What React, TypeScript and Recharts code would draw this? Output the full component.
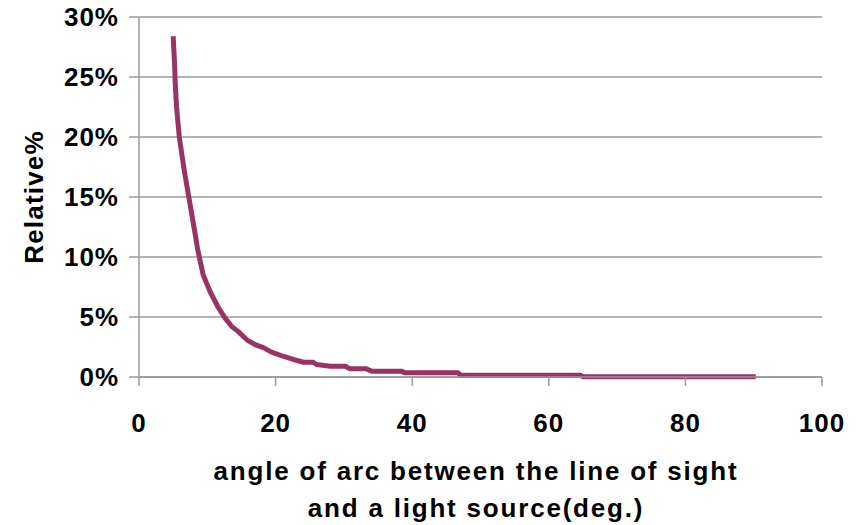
import { CartesianGrid, Line, LineChart, XAxis, YAxis } from "recharts";

// angle of arc (deg.) and relative %
const ANGLE_DEG = [
  5.0, 5.2, 5.3, 5.5, 5.9, 6.6, 7.35, 8.2, 8.6, 9.4, 10.5, 11.6, 12.6, 13.6, 14.5, 15.8, 17.0, 18.2,
  19.4, 21.1, 22.6, 24.1, 25.5, 26.0, 28.0, 30.2, 30.9, 33.3, 34.1, 38.5, 38.9, 46.7, 47.1, 64.6, 65.0,
  90.3,
];
const RELATIVE_PCT = [
  28.4, 26.2, 24.5, 22.5, 20.0, 17.3, 14.8, 12.0, 10.6, 8.5, 7.0, 5.8, 4.9, 4.2, 3.8, 3.1, 2.7, 2.45,
  2.07, 1.73, 1.46, 1.23, 1.23, 1.04, 0.9, 0.9, 0.68, 0.68, 0.48, 0.48, 0.35, 0.35, 0.15, 0.15, 0.02,
  0.02,
];
const X_TICKS = [0, 20, 40, 60, 80, 100];
const Y_TICKS = [0, 5, 10, 15, 20, 25, 30];
const X_TITLE = ["angle of arc between the line of sight", "and a light source(deg.)"];
const Y_TITLE = "Relative%";

const LINE = "#993366";
const GRID = "#9a9a9a";
const FONT = "'Liberation Sans', Arial, sans-serif";

const data = ANGLE_DEG.map((a, i) => ({ angle: a, pct: RELATIVE_PCT[i] }));

const tickStyle = { fontSize: 26, fontWeight: 700, fill: "#000", fontFamily: FONT, letterSpacing: 1 };

export default function App() {
  return (
    <div style={{ position: "absolute", left: 0, top: 0, width: 860, height: 525, background: "#fff" }}>
      <LineChart width={860} height={525} data={data} margin={{ top: 17, right: 38, bottom: 0, left: 0 }}>
        <CartesianGrid vertical={false} stroke={GRID} strokeWidth={1.5} />
        <XAxis
          type="number"
          dataKey="angle"
          domain={[0, 100]}
          ticks={X_TICKS}
          height={148}
          tick={tickStyle}
          tickSize={9}
          tickMargin={28}
          axisLine={{ stroke: GRID, strokeWidth: 1.5 }}
          tickLine={{ stroke: GRID, strokeWidth: 1.5 }}
          label={{
            content: () => (
              <text
                textAnchor="middle"
                fontSize={26}
                fontWeight={700}
                fontFamily={FONT}
                letterSpacing={1.8}
                fill="#000"
              >
                <tspan x={476} y={480}>{X_TITLE[0]}</tspan>
                <tspan x={476} y={517}>{X_TITLE[1]}</tspan>
              </text>
            ),
          }}
        />
        <YAxis
          type="number"
          domain={[0, 30]}
          ticks={Y_TICKS}
          width={139}
          tick={tickStyle}
          tickSize={10}
          tickMargin={10}
          tickFormatter={(v: number) => `${v}%`}
          axisLine={{ stroke: GRID, strokeWidth: 1.5 }}
          tickLine={{ stroke: GRID, strokeWidth: 1.5 }}
          label={{
            content: () => (
              <text
                x={43}
                y={197}
                transform="rotate(-90 43 197)"
                textAnchor="middle"
                fontSize={26}
                fontWeight={700}
                fontFamily={FONT}
                letterSpacing={1.2}
                fill="#000"
              >
                {Y_TITLE}
              </text>
            ),
          }}
        />
        <Line
          type="linear"
          dataKey="pct"
          stroke={LINE}
          strokeWidth={5}
          strokeLinejoin="round"
          dot={false}
          isAnimationActive={false}
        />
      </LineChart>
    </div>
  );
}
